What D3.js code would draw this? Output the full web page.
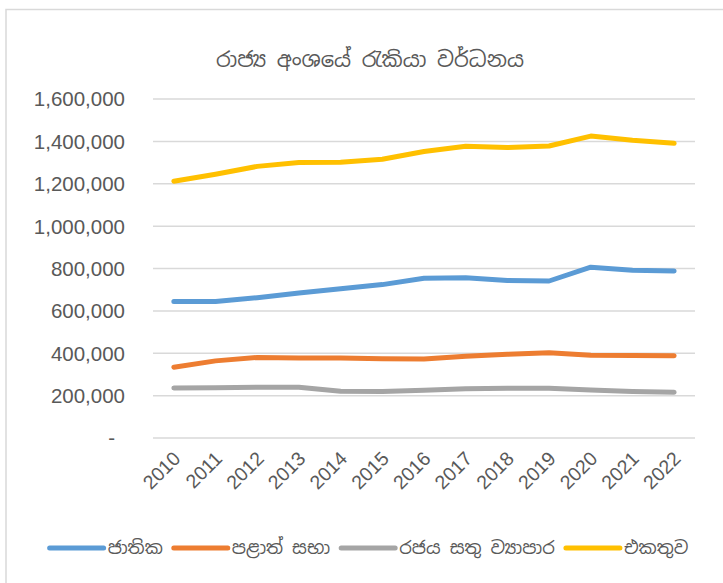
<!DOCTYPE html>
<html>
<head>
<meta charset="utf-8">
<script src="https://cdn.jsdelivr.net/npm/d3@7"></script>
<style>
  body { margin: 0; background: #fff; }
  svg { display: block; }
</style>
</head>
<body>
<script>
const years = [2010, 2011, 2012, 2013, 2014, 2015, 2016, 2017, 2018, 2019, 2020, 2021, 2022];
const seriesNames = ["ජාතික", "පළාත් සභා", "රජය සතු ව්\u200Dයාපාර", "එකතුව"];
const national = [644000, 644000, 662000, 684000, 704000, 724000, 754000, 756000, 743000, 741000, 806000, 792000, 788000];
const provincial = [334000, 364000, 380000, 377000, 377000, 374000, 373000, 386000, 395000, 402000, 391000, 389000, 388000];
const stateEnterprise = [236000, 237000, 240000, 240000, 221000, 219000, 225000, 232000, 235000, 235000, 227000, 220000, 216000];
const total = [1212000, 1245000, 1282000, 1300000, 1302000, 1316000, 1352000, 1377000, 1371000, 1378000, 1425000, 1405000, 1391000];
const yTicks = [0, 200000, 400000, 600000, 800000, 1000000, 1200000, 1400000, 1600000];
const colors = ["#5B9BD5", "#ED7D31", "#A5A5A5", "#FFC000"];

const series = [national, provincial, stateEnterprise, total];

const width = 723, height = 583;
const plot = {left: 153, right: 695, top: 99, bottom: 438};
const sinhala = "'Noto Sans Sinhala', 'Iskoola Pota', 'Noto Sans', sans-serif";
const textColor = "#595959";

const svg = d3.select("body").append("svg")
  .attr("width", width)
  .attr("height", height);

// chart border
svg.append("rect")
  .attr("x", 6).attr("y", 9.5)
  .attr("width", width).attr("height", height)
  .attr("fill", "none")
  .attr("stroke", "#d9d9d9")
  .attr("stroke-width", 1.5);

const x = d3.scaleBand()
  .domain(years)
  .range([plot.left, plot.right]);

const y = d3.scaleLinear()
  .domain([0, 1600000])
  .range([plot.bottom, plot.top]);

// gridlines
svg.append("g")
  .selectAll("line")
  .data(yTicks)
  .join("line")
  .attr("x1", plot.left).attr("x2", plot.right)
  .attr("y1", d => y(d)).attr("y2", d => y(d))
  .attr("stroke", "#d9d9d9")
  .attr("stroke-width", 1.5);

// y labels
svg.append("g")
  .selectAll("text")
  .data(yTicks)
  .join("text")
  .attr("x", d => d === 0 ? 115 : 125)
  .attr("y", d => y(d))
  .attr("dy", "0.36em")
  .attr("text-anchor", "end")
  .attr("fill", textColor)
  .style("font-family", "'Liberation Sans', Arial, sans-serif")
  .style("font-size", "20.5px")
  .text(d => d === 0 ? "-" : d3.format(",")(d));

// x labels, rotated
svg.append("g")
  .selectAll("text")
  .data(years)
  .join("text")
  .attr("transform", d => `translate(${x(d) + x.bandwidth() / 2 + 3},${plot.bottom + 17}) rotate(-45)`)
  .attr("text-anchor", "end")
  .attr("dy", "0.35em")
  .attr("fill", textColor)
  .style("font-family", "'Liberation Sans', Arial, sans-serif")
  .style("font-size", "19.5px")
  .text(d => d);

// lines
const line = d3.line()
  .x((d, i) => x(years[i]) + x.bandwidth() / 2)
  .y(d => y(d));

svg.append("g")
  .selectAll("path")
  .data(series)
  .join("path")
  .attr("d", line)
  .attr("fill", "none")
  .attr("stroke", (d, i) => colors[i])
  .attr("stroke-width", 5)
  .attr("stroke-linecap", "round")
  .attr("stroke-linejoin", "round");

// title
svg.append("text")
  .attr("x", 370)
  .attr("y", 67)
  .attr("text-anchor", "middle")
  .attr("fill", textColor)
  .style("font-family", sinhala)
  .style("font-size", "21px")
  .text("රාජ්\u200Dය අංශයේ රැකියා වර්ධනය");

// legend
const legend = svg.append("g");
const items = legend.selectAll("g")
  .data(seriesNames)
  .join("g");

items.append("line")
  .attr("x1", 0).attr("x2", 54)
  .attr("y1", 0).attr("y2", 0)
  .attr("stroke", (d, i) => colors[i])
  .attr("stroke-width", 5)
  .attr("stroke-linecap", "round");

items.append("text")
  .attr("x", 58)
  .attr("dy", "0.35em")
  .attr("fill", textColor)
  .style("font-family", sinhala)
  .style("font-size", "18px")
  .text(d => d);

const gap = 11;
let offset = 0;
items.each(function() {
  const g = d3.select(this);
  const w = 58 + g.select("text").node().getComputedTextLength();
  g.attr("transform", `translate(${offset},548)`);
  offset += w + gap;
});
const legendWidth = offset - gap;
legend.attr("transform", `translate(${369 - legendWidth / 2},0)`);
</script>
</body>
</html>
